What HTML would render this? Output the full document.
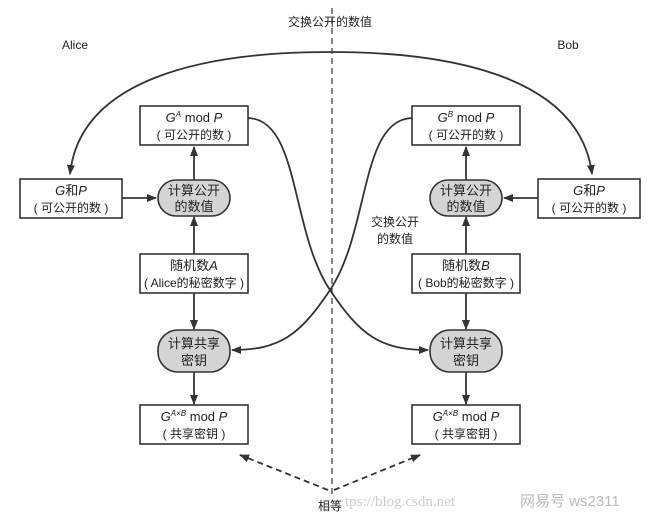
<!DOCTYPE html>
<html><head><meta charset="utf-8"><style>
body{margin:0;background:#fff}
svg text{font-family:"Liberation Sans","Noto Sans CJK SC",sans-serif;fill:#222}
</style></head><body>
<svg width="660" height="521" viewBox="0 0 660 521" xmlns="http://www.w3.org/2000/svg">
<defs>
<marker id="a" markerWidth="10" markerHeight="10" refX="9" refY="5" orient="auto" markerUnits="userSpaceOnUse"><path d="M0,1 L10,5 L0,9 Z" fill="#333"/></marker>
</defs>
<g stroke="#333" stroke-width="1.8" fill="none">
<line x1="332" y1="8" x2="332" y2="495" stroke-dasharray="6,4" stroke-width="1.2"/>
<path d="M330,52 C200,52 80,80 70,174" marker-end="url(#a)"/>
<path d="M330,52 C460,52 580,80 592,174" marker-end="url(#a)"/>
<path d="M248,118 C300,120 290,230 330,290 C360,335 380,350 428,350" marker-end="url(#a)"/>
<path d="M412,118 C360,120 370,230 330,290 C300,335 280,350 232,350" marker-end="url(#a)"/>
<line x1="122" y1="198" x2="156" y2="198" marker-end="url(#a)"/>
<line x1="538" y1="198" x2="504" y2="198" marker-end="url(#a)"/>
<line x1="194" y1="180" x2="194" y2="147" marker-end="url(#a)"/>
<line x1="194" y1="254" x2="194" y2="217" marker-end="url(#a)"/>
<line x1="194" y1="293" x2="194" y2="329" marker-end="url(#a)"/>
<line x1="194" y1="372" x2="194" y2="404" marker-end="url(#a)"/>
<line x1="466" y1="180" x2="466" y2="147" marker-end="url(#a)"/>
<line x1="466" y1="254" x2="466" y2="217" marker-end="url(#a)"/>
<line x1="466" y1="293" x2="466" y2="329" marker-end="url(#a)"/>
<line x1="466" y1="372" x2="466" y2="404" marker-end="url(#a)"/>
<path d="M328,490 L240,455" stroke-dasharray="6,4" marker-end="url(#a)"/>
<path d="M334,490 L420,455" stroke-dasharray="6,4" marker-end="url(#a)"/>
</g>
<g stroke="#333" stroke-width="1.6" fill="#fff">
<rect x="140" y="106" width="108" height="39"/>
<rect x="20" y="179" width="102" height="39"/>
<rect x="140" y="254" width="108" height="39"/>
<rect x="140" y="405" width="108" height="39"/>
<rect x="412" y="106" width="108" height="39"/>
<rect x="538" y="179" width="102" height="39"/>
<rect x="412" y="254" width="108" height="39"/>
<rect x="412" y="405" width="108" height="39"/>
<rect x="158" y="180" width="72" height="36" rx="18" fill="#d4d4d4"/>
<rect x="158" y="330" width="72" height="42" rx="20" fill="#d4d4d4"/>
<rect x="430" y="180" width="72" height="36" rx="18" fill="#d4d4d4"/>
<rect x="430" y="330" width="72" height="42" rx="20" fill="#d4d4d4"/>
</g>
<g font-size="12" text-anchor="middle">
<text x="330" y="26">交换公开的数值</text>
<text x="75" y="49">Alice</text>
<text x="568" y="49">Bob</text>
<text x="395" y="226">交换公开</text>
<text x="395" y="243">的数值</text>
<text x="194" y="122" font-size="13"><tspan font-style="italic">G</tspan><tspan font-size="8" dy="-5" font-style="italic">A</tspan><tspan dy="5"> mod </tspan><tspan font-style="italic">P</tspan></text>
<text x="194" y="139">( 可公开的数 )</text>
<text x="466" y="122" font-size="13"><tspan font-style="italic">G</tspan><tspan font-size="8" dy="-5" font-style="italic">B</tspan><tspan dy="5"> mod </tspan><tspan font-style="italic">P</tspan></text>
<text x="466" y="139">( 可公开的数 )</text>
<text x="71" y="195" font-size="13"><tspan font-style="italic">G</tspan>和<tspan font-style="italic">P</tspan></text>
<text x="71" y="212">( 可公开的数 )</text>
<text x="589" y="195" font-size="13"><tspan font-style="italic">G</tspan>和<tspan font-style="italic">P</tspan></text>
<text x="589" y="212">( 可公开的数 )</text>
<text x="194" y="195" font-size="13">计算公开</text>
<text x="194" y="211" font-size="13">的数值</text>
<text x="466" y="195" font-size="13">计算公开</text>
<text x="466" y="211" font-size="13">的数值</text>
<text x="194" y="270" font-size="13">随机数<tspan font-style="italic">A</tspan></text>
<text x="194" y="287">( Alice的秘密数字 )</text>
<text x="466" y="270" font-size="13">随机数<tspan font-style="italic">B</tspan></text>
<text x="466" y="287">( Bob的秘密数字 )</text>
<text x="194" y="348" font-size="13">计算共享</text>
<text x="194" y="365" font-size="13">密钥</text>
<text x="466" y="348" font-size="13">计算共享</text>
<text x="466" y="365" font-size="13">密钥</text>
<text x="194" y="421" font-size="13"><tspan font-style="italic">G</tspan><tspan font-size="8" dy="-5" font-style="italic">A×B</tspan><tspan dy="5"> mod </tspan><tspan font-style="italic">P</tspan></text>
<text x="194" y="438">( 共享密钥 )</text>
<text x="466" y="421" font-size="13"><tspan font-style="italic">G</tspan><tspan font-size="8" dy="-5" font-style="italic">A×B</tspan><tspan dy="5"> mod </tspan><tspan font-style="italic">P</tspan></text>
<text x="466" y="438">( 共享密钥 )</text>
<text x="330" y="510">相等</text>
</g>
<text x="345" y="506" font-size="15" style="fill:#ccc;font-family:'Liberation Serif',serif">tps://blog.csdn.net</text>
<text x="520" y="506" font-size="15" style="fill:#bbb">网易号 ws2311</text>
</svg>
</body></html>
